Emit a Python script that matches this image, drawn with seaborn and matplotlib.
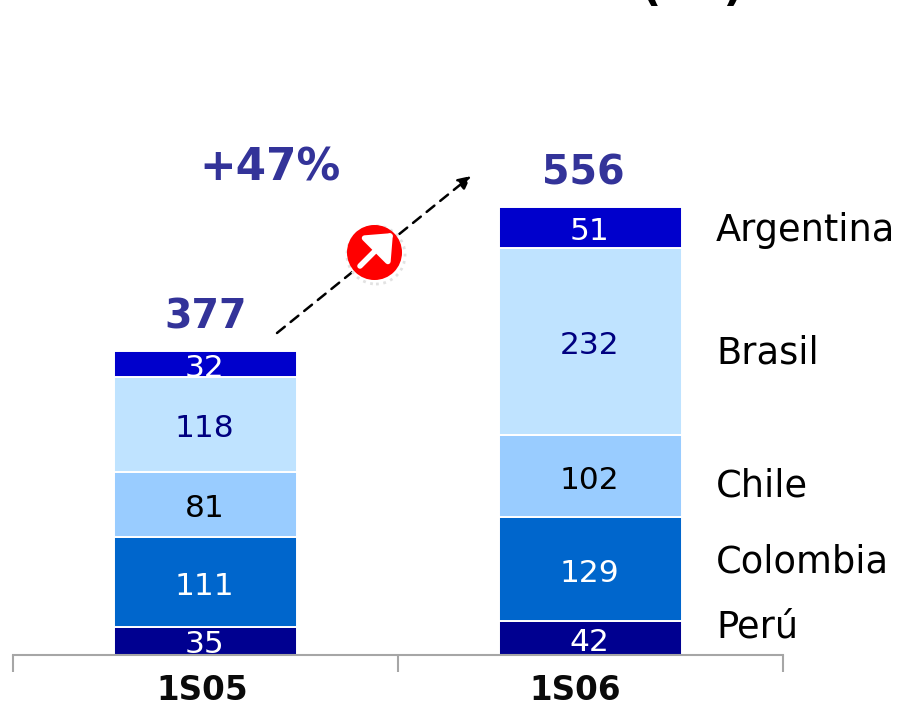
import numpy as np
import pandas as pd
import matplotlib
matplotlib.use("Agg")
import matplotlib.pyplot as plt
import seaborn as sns

periods = ["1S05", "1S06"]
countries = ["Perú", "Colombia", "Chile", "Brasil", "Argentina"]
peru = [35, 42]
colombia = [111, 129]
chile = [81, 102]
brasil = [118, 232]
argentina = [32, 51]
totals = [377, 556]
growth_label = "+47%"
bar_colors = ["#000090", "#0066CC", "#99CCFF", "#BFE3FF", "#0000CC"]
text_colors = ["white", "white", "black", "#000080", "white"]

sns.set_theme(style="white")
plt.rcParams["font.family"] = ["DejaVu Sans"]

W, H = 899, 704
fig = plt.figure(figsize=(W / 100, H / 100), dpi=100)
base_px = 655
ax = fig.add_axes([13 / W, 1 - base_px / H, 770 / W, base_px / H])
ax.patch.set_alpha(0)
px_per_unit = 448 / 556
ax.set_ylim(0, base_px / px_per_unit)


def px(x, y):
    return ((x - 13) / 385 - 0.5, (base_px - y) / px_per_unit)


series = [peru, colombia, chile, brasil, argentina]
bottom = np.zeros(2)
for name, vals, col, tc in zip(countries, series, bar_colors, text_colors):
    df = pd.DataFrame({"period": periods, "value": vals})
    sns.barplot(data=df, x="period", y="value", color=col, saturation=1,
                width=0.475, bottom=bottom, edgecolor="white", linewidth=1.4,
                ax=ax, zorder=2)
    for i, v in enumerate(vals):
        ax.text(i - 0.002, bottom[i] + v / 2 - 5, str(v), ha="center", va="center",
                color=tc, fontsize=22.5, zorder=3, clip_on=True)
    bottom += np.array(vals)

for i, t in enumerate(totals):
    ax.text(i + (0.001 if i == 0 else -0.018), t + 42, str(t), ha="center", va="center",
            color="#333399", fontsize=28.5, fontweight="bold")

ax.set_xlim(-0.5, 1.5)
ax.set_xlabel("")
ax.set_ylabel("")
ax.set_yticks([])
for s in ["top", "left", "right"]:
    ax.spines[s].set_visible(False)
ax.spines["bottom"].set_color("#A6A6A6")
ax.spines["bottom"].set_linewidth(1.5)
ax.spines["bottom"].set_zorder(4)
ax.set_xticks([-0.5, 0.5, 1.5])
ax.set_xticklabels([])
ax.set_xticks([-0.008, 0.96], minor=True)
ax.set_xticklabels(periods, minor=True, fontsize=23.5, fontweight="bold", color="#0A0A0A")
ax.tick_params(axis="x", which="major", length=12, width=1.5, color="#A6A6A6", bottom=True)
ax.tick_params(axis="x", which="minor", length=0, pad=14, bottom=True)

# country labels
label_y = {"Argentina": 231, "Brasil": 353, "Chile": 486, "Colombia": 562, "Perú": 627}
for name, y in label_y.items():
    x0, y0 = px(716, y)
    ax.text(x0, y0, name, ha="left", va="center", fontsize=26.5, color="black", clip_on=False)

# growth label and arrow
ax.text(*px(270, 168), growth_label, ha="center", va="center", color="#333399",
        fontsize=31.5, fontweight="bold")
ax.annotate("", xy=px(471, 176), xytext=px(277, 333),
            arrowprops=dict(arrowstyle="-|>", linestyle=(0, (4, 3)), color="black",
                            lw=1.8, mutation_scale=19, shrinkA=0, shrinkB=0), zorder=3)
# badge
ax.scatter(*px(376, 255), s=1750, facecolor="white", edgecolor="#E2E2E2", linestyle=":",
           linewidths=2.0, zorder=4, clip_on=False)
ax.scatter(*px(374, 252), s=1570, color="#FF0000", zorder=5, linewidths=0, clip_on=False)
ax.annotate("", xy=px(393, 233), xytext=px(360, 266),
            arrowprops=dict(arrowstyle="-|>,head_width=0.85,head_length=1.0", color="white",
                            lw=4, mutation_scale=14, shrinkA=0, shrinkB=0), zorder=6)

# title cropped at the top edge
fig.text(692 / W, 1 - (-13) / H, "(    )", ha="center", va="center", fontsize=32,
         fontweight="bold", color="black")

fig.savefig("out.png", dpi=100)
